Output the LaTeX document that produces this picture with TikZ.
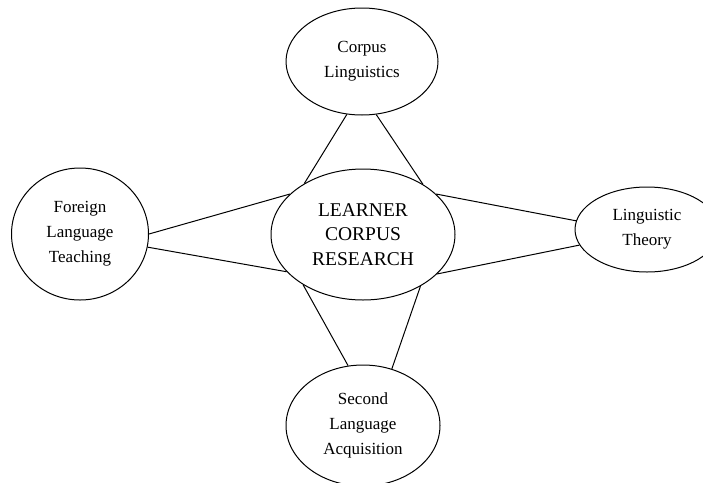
\documentclass[tikz,border=0pt]{standalone}
\usepackage{fontspec}
\setmainfont{Liberation Serif}
\usetikzlibrary{shapes.geometric}
\tikzset{
  bubble/.style={draw, ellipse, line width=1pt, inner sep=0pt, align=center,
    font=\fontsize{17}{25}\selectfont},
  link/.style={line width=1pt}
}
\begin{document}
\begin{tikzpicture}[x=1pt,y=-1pt]
\useasboundingbox (0,0) rectangle (703,482);
\clip (0,0) rectangle (703,482);
\node[bubble, minimum width=184pt, minimum height=131pt,
  font=\fontsize{19.5}{24.5}\selectfont] (C) at (363,234.5) {LEARNER\\CORPUS\\RESEARCH};
\node[bubble, minimum width=152pt, minimum height=107pt] (T) at (362,61.5) {Corpus\\Linguistics};
\node[bubble, minimum width=137pt, minimum height=132pt] (L) at (80,234) {Foreign\\Language\\Teaching};
\node[bubble, minimum width=144pt, minimum height=85pt] (R) at (647,229.5) {Linguistic\\Theory};
\node[bubble, minimum width=154pt, minimum height=121pt] (B) at (363,425.5) {Second\\Language\\Acquisition};
\draw[link] (T.254.3) -- (C.139.3);
\draw[link] (T.285.7) -- (C.40.7);
\draw[link] (L.0.8) -- (C.151.9);
\draw[link] (L.349.5) -- (C.206.9);
\draw[link] (R.173.2) -- (C.29);
\draw[link] (R.193.8) -- (C.332.8);
\draw[link] (B.104.4) -- (C.220.7);
\draw[link] (B.63.6) -- (C.318.8);
\end{tikzpicture}
\end{document}
